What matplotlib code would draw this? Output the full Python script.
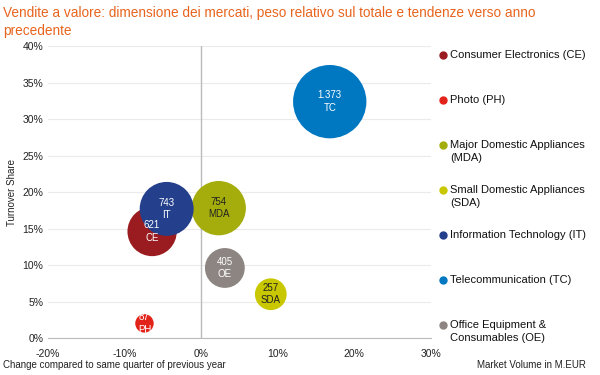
import matplotlib
matplotlib.use("Agg")
import matplotlib.pyplot as plt
from matplotlib.ticker import FuncFormatter

plt.rcParams['font.family'] = ['Liberation Sans', 'DejaVu Sans']

# dati del grafico
codes = ["CE", "PH", "MDA", "SDA", "IT", "TC", "OE"]
names = ["Consumer Electronics (CE)", "Photo (PH)", "Major Domestic Appliances\n(MDA)",
         "Small Domestic Appliances\n(SDA)", "Information Technology (IT)",
         "Telecommunication (TC)", "Office Equipment &\nConsumables (OE)"]
change = [-6.4, -7.4, 2.3, 9.1, -4.5, 16.8, 3.1]     # % vs anno precedente
share = [14.6, 2.0, 17.8, 6.0, 17.7, 32.4, 9.6]      # % quota fatturato
volume = [621, 87, 754, 257, 743, 1373, 405]         # M.EUR
volume_labels = ["621", "87", "754", "257", "743", "1.373", "405"]
colors = ["#9B1C20", "#E2231A", "#A5AD0C", "#C9C800", "#243F8B", "#0077C1", "#8D8581"]
text_colors = ["white", "white", "#222222", "#222222", "white", "white", "white"]

fig = plt.figure(figsize=(6, 3.75), dpi=100)
ax = fig.add_axes([0.08, 0.0987, 0.638, 0.778])

# ordine di disegno: IT sopra CE
order = [5, 2, 6, 3, 1, 0, 4]
for i in order:
    ax.scatter(change[i], share[i], s=volume[i] * 2.03, color=colors[i],
               edgecolors="none", zorder=3)
    ax.text(change[i], share[i], volume_labels[i] + "\n" + codes[i], ha="center",
            va="center", fontsize=7, color=text_colors[i], zorder=4, linespacing=1.3)

ax.set_xlim(-20, 30)
ax.set_ylim(0, 40)
ax.set_xticks(range(-20, 31, 10))
ax.set_yticks(range(0, 41, 5))
ax.xaxis.set_major_formatter(FuncFormatter(lambda v, p: f"{v:.0f}%"))
ax.yaxis.set_major_formatter(FuncFormatter(lambda v, p: f"{v:.0f}%"))
ax.tick_params(length=0, labelsize=7.5, colors="#222222")
ax.tick_params(axis="x", pad=8)
ax.grid(axis="y", color="#EBEBEB", linewidth=0.8, zorder=0)
ax.axvline(0, color="#BBBBBB", linewidth=1, zorder=1)
for sp in ["top", "right", "left"]:
    ax.spines[sp].set_visible(False)
ax.spines["bottom"].set_color("#BBBBBB")
ax.set_axisbelow(True)

ax.set_ylabel("Turnover Share", fontsize=7, color="#222222", labelpad=4)

fig.text(0.005, 0.026, "Change compared to same quarter of previous year",
         fontsize=7, color="#222222", va="center")
fig.text(586 / 600, 0.026, "Market Volume in M.EUR", fontsize=7, color="#222222",
         ha="right", va="center")

fig.text(0.005, 0.984, "Vendite a valore: dimensione dei mercati, peso relativo sul totale e tendenze verso anno\nprecedente",
         fontsize=9.8, color="#E8641E", va="top", linespacing=1.4)

# legenda manuale
for k in range(len(codes)):
    y = 1 - (55 + 45 * k) / 375
    ax.plot([443 / 600], [y], marker="o", markersize=5, color=colors[k],
            transform=fig.transFigure, clip_on=False, linestyle="none")
    fig.text(450 / 600, y + 5 / 375, names[k], fontsize=8, color="#111111",
             va="top", linespacing=1.35)

fig.savefig("out.png", dpi=100)
